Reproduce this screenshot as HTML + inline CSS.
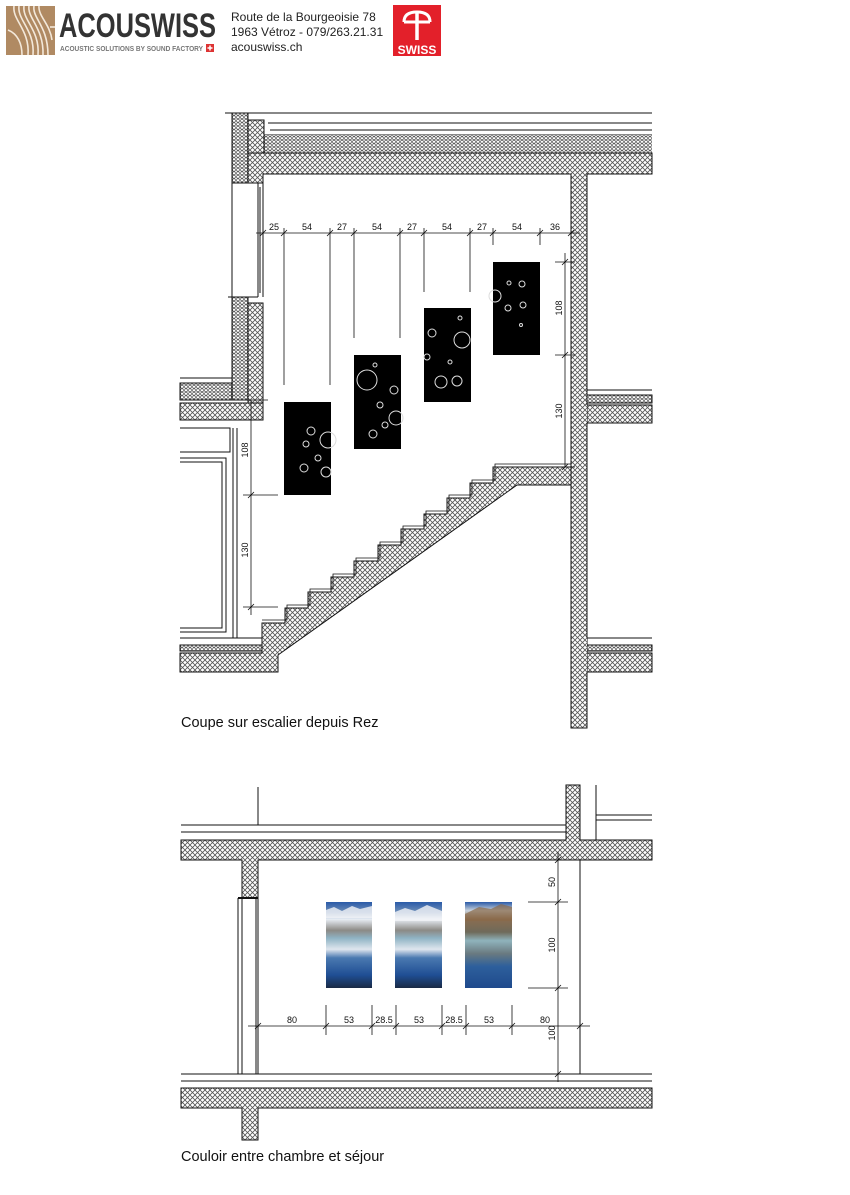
<!DOCTYPE html>
<html><head><meta charset="utf-8"><style>
html,body{margin:0;padding:0;background:#fff;}
body{width:850px;height:1195px;position:relative;overflow:hidden;font-family:"Liberation Sans",sans-serif;}
</style></head><body>
<svg width="850" height="1195" viewBox="0 0 850 1195" xmlns="http://www.w3.org/2000/svg" style="position:absolute;left:0;top:0">
<defs>
<pattern id="h" width="5" height="5" patternUnits="userSpaceOnUse">
<rect width="5" height="5" fill="#fff"/>
<path d="M0 0L5 5M5 0L0 5" stroke="#555" stroke-width="0.8"/>
</pattern>
<pattern id="f" width="4" height="3.5" patternUnits="userSpaceOnUse">
<rect width="4" height="3.5" fill="#fff"/>
<circle cx="2" cy="1.75" r="1.5" fill="none" stroke="#555" stroke-width="0.7"/>
</pattern>
<linearGradient id="mt" x1="0" y1="0" x2="0" y2="1">
<stop offset="0" stop-color="#2a5aa8"/><stop offset="0.12" stop-color="#6f8fb8"/>
<stop offset="0.2" stop-color="#e8eef4"/><stop offset="0.33" stop-color="#8c8a86"/>
<stop offset="0.42" stop-color="#8fb3c4"/><stop offset="0.55" stop-color="#dfe6ee"/>
<stop offset="0.65" stop-color="#4a79b0"/><stop offset="0.85" stop-color="#1f4e94"/>
<stop offset="1" stop-color="#1a2a44"/>
</linearGradient>
<linearGradient id="mt3" x1="0" y1="0" x2="0" y2="1">
<stop offset="0" stop-color="#2a5aa8"/><stop offset="0.1" stop-color="#c9d2dc"/>
<stop offset="0.2" stop-color="#8a6d50"/><stop offset="0.35" stop-color="#6f6a5a"/>
<stop offset="0.45" stop-color="#8fb3bc"/><stop offset="0.6" stop-color="#6a7a80"/>
<stop offset="0.75" stop-color="#2d5f9c"/><stop offset="1" stop-color="#1f4a8c"/>
</linearGradient>
</defs>

<!-- HEADER -->
<rect x="6" y="6" width="49" height="49" fill="#b08a63"/>
<g fill="none" stroke="#f3e8da" stroke-width="1.6">
<path d="M14 6 C12 20 30 30 28 55"/><path d="M19 6 C17 20 35 30 33 55"/><path d="M24 6 C22 20 40 30 38 55"/>
<path d="M29 6 C27 18 44 28 43 55"/><path d="M34 6 C32 18 48 26 48 55"/><path d="M39 6 C38 16 50 24 52 40"/>
<path d="M8 30 C18 34 22 44 22 55"/><path d="M50 27 h5"/>
</g>
<text x="59" y="37" font-size="34" font-weight="bold" fill="#333" textLength="157" lengthAdjust="spacingAndGlyphs">ACOUSWISS</text>
<text x="60" y="51" font-size="7.5" font-weight="bold" fill="#777" textLength="143" lengthAdjust="spacingAndGlyphs">ACOUSTIC SOLUTIONS BY SOUND FACTORY</text>
<rect x="206" y="44" width="8" height="8" fill="#d33"/><path d="M210 45.5v5M207.5 48h5" stroke="#fff" stroke-width="1.5"/>
<text x="231" y="21" font-size="12" fill="#222">Route de la Bourgeoisie 78</text>
<text x="231" y="36" font-size="12" fill="#222">1963 Vétroz - 079/263.21.31</text>
<text x="231" y="51" font-size="12" fill="#222">acouswiss.ch</text>
<rect x="393" y="5" width="48" height="51" fill="#e3202a"/>
<path d="M404 22 Q404 12 417 12 Q430 12 430 22 M404 22h26" fill="none" stroke="#fff" stroke-width="3"/>
<path d="M417 12v28" stroke="#fff" stroke-width="3.5"/>
<text x="417" y="54" font-size="12" font-weight="bold" fill="#fff" text-anchor="middle">SWISS</text>

<!-- TOP DRAWING -->
<g stroke="#111" stroke-width="1" fill="none">
<path d="M268 113H652M268 123H652M270 130H652M264 135H652"/>
</g>
<rect x="264" y="135" width="388" height="18" fill="url(#f)"/>
<path d="M248 153H652V174H587V728H571V174H263V183H248Z" fill="url(#h)" stroke="#111"/>
<path d="M248 120H264V153H248Z" fill="url(#h)" stroke="#111"/>
<rect x="232" y="113" width="16" height="70" fill="url(#f)" stroke="#111"/>
<path d="M225 113H270" stroke="#111"/>
<path d="M258 183V297M263 183V297M260 187V293M232 183V297" stroke="#111" fill="none"/>
<path d="M228 297H258" stroke="#111"/>
<rect x="232" y="297" width="16" height="103" fill="url(#f)" stroke="#111"/>
<rect x="248" y="303" width="15" height="117" fill="url(#h)" stroke="#111"/>
<path d="M180 378H232M180 383H232" stroke="#111"/>
<rect x="180" y="383" width="52" height="17" fill="url(#f)" stroke="#111"/>
<rect x="180" y="403" width="83" height="17" fill="url(#h)" stroke="#111"/>
<path d="M587 390H652" stroke="#111"/>
<rect x="587" y="395" width="65" height="8" fill="url(#f)" stroke="#111"/>
<rect x="587" y="405" width="65" height="18" fill="url(#h)" stroke="#111"/>
<path d="M587 638H652" stroke="#111"/>
<rect x="587" y="645" width="65" height="6" fill="url(#f)" stroke="#111"/>
<rect x="587" y="653" width="65" height="19" fill="url(#h)" stroke="#111"/>
<rect x="571" y="405" width="16" height="267" fill="url(#h)"/>
<path d="M571 174V728M587 174V390M587 423V638M587 672V728" stroke="#111"/>
<g stroke="#111" fill="none">
<path d="M233 428V638M237 428V638"/>
<path d="M180 428H230V452H180M180 458H226V632H180M180 462H222V628H180"/>
</g>
<path d="M180 638H262" stroke="#111"/>
<rect x="180" y="645" width="82" height="6" fill="url(#f)" stroke="#111"/>
<path d="M180 653H262V623H285V608H308V592H331V577H354V561H378V545H401V529H424V514H447V498H470V483H493V467H571V485H517L278 655V672H180Z" fill="url(#h)" stroke="#111"/>
<path d="M262 620H287V605H310V589H333V574H356V558H380V542H403V526H426V511H449V495H472V480H495V464H571" fill="none" stroke="#111" stroke-width="0.8"/>

<g>
<rect x="284" y="402" width="47" height="93" fill="#000"/>
<rect x="354" y="355" width="47" height="94" fill="#000"/>
<rect x="424" y="308" width="47" height="94" fill="#000"/>
<rect x="493" y="262" width="47" height="93" fill="#000"/>
<g fill="none" stroke="#ddd" stroke-width="1">
<circle cx="311" cy="431" r="4"/><circle cx="306" cy="444" r="3"/><circle cx="304" cy="468" r="4"/><circle cx="328" cy="440" r="8"/><circle cx="318" cy="458" r="3"/><circle cx="326" cy="472" r="5"/>
<circle cx="367" cy="380" r="10"/><circle cx="380" cy="405" r="3"/><circle cx="394" cy="390" r="4"/><circle cx="396" cy="418" r="7"/><circle cx="373" cy="434" r="4"/><circle cx="385" cy="425" r="3"/><circle cx="375" cy="365" r="2"/>
<circle cx="432" cy="333" r="4"/><circle cx="462" cy="340" r="8"/><circle cx="441" cy="382" r="6"/><circle cx="457" cy="381" r="5"/><circle cx="427" cy="357" r="3"/><circle cx="450" cy="362" r="2"/><circle cx="460" cy="318" r="2"/>
<circle cx="509" cy="283" r="2"/><circle cx="522" cy="284" r="3"/><circle cx="508" cy="308" r="3"/><circle cx="523" cy="305" r="3"/><circle cx="495" cy="296" r="6"/><circle cx="521" cy="325" r="1.5"/>
</g>
</g>

<g stroke="#111" stroke-width="0.8" fill="none">
<path d="M256 233H580"/>
<path d="M263 228V240M284 228V385M330 228V385M354 228V338M400 228V338M424 228V292M470 228V292M493 228V245M540 228V245M571 228V240"/>
<path d="M260 236l6-6M281 236l6-6M327 236l6-6M351 236l6-6M397 236l6-6M421 236l6-6M467 236l6-6M490 236l6-6M537 236l6-6M568 236l6-6"/>
<path d="M565 253V467M555 262H575M555 355H575M555 467H575M562 265l6-6M562 358l6-6M562 470l6-6"/>
<path d="M251 400V615M243 400H268M243 495H278M243 607H278M248 498l6-6M248 610l6-6"/>
</g>
<g font-size="9" fill="#111" text-anchor="middle">
<text x="274" y="230">25</text><text x="307" y="230">54</text><text x="342" y="230">27</text><text x="377" y="230">54</text><text x="412" y="230">27</text><text x="447" y="230">54</text><text x="482" y="230">27</text><text x="517" y="230">54</text><text x="555" y="230">36</text>
<text transform="translate(562 308) rotate(-90)">108</text>
<text transform="translate(562 411) rotate(-90)">130</text>
<text transform="translate(248 450) rotate(-90)">108</text>
<text transform="translate(248 550) rotate(-90)">130</text>
</g>
<text x="181" y="727" font-size="14.5" fill="#111">Coupe sur escalier depuis Rez</text>

<g stroke="#111" fill="none">
<path d="M181 825H566M181 832H566M258 787V825"/>
<path d="M596 785V840M596 815H652M596 820H652"/>
<path d="M181 1074H652M181 1081H652"/>
<path d="M238 898V1074M242 898V1074M256 898V1074M258 898V1074"/>
<path d="M580 860V1074"/>
</g>
<path d="M181 840H566V785H580V840H652V860H258V898H242V860H181Z" fill="url(#h)" stroke="#111"/>
<path d="M238 898H258" stroke="#111" stroke-width="2"/>
<path d="M181 1088H652V1108H258V1140H242V1108H181Z" fill="url(#h)" stroke="#111"/>
<rect x="326" y="902" width="46" height="86" fill="url(#mt)"/>
<rect x="395" y="902" width="47" height="86" fill="url(#mt)"/>
<rect x="465" y="902" width="47" height="86" fill="url(#mt3)"/>
<path d="M326 910l8-3 8 4 10-5 8 3 12-3v12h-46z" fill="#f2f4f7" opacity="0.8"/>
<path d="M395 912l10-4 10 3 12-6 15 6v10h-47z" fill="#f2f4f7" opacity="0.8"/>
<path d="M465 914l14-7 12 2 10-5 11 3v14h-47z" fill="#8a6a48" opacity="0.7"/>
<g stroke="#111" stroke-width="0.8" fill="none">
<path d="M248 1026H590"/>
<path d="M258 1020V1032M326 1005V1035M372 1005V1035M396 1005V1035M442 1005V1035M466 1005V1035M512 1005V1035M580 1020V1032"/>
<path d="M255 1029l6-6M323 1029l6-6M369 1029l6-6M393 1029l6-6M439 1029l6-6M463 1029l6-6M509 1029l6-6M577 1029l6-6"/>
<path d="M558 852V1082M528 902H568M528 988H568M552 860H565M552 1074H565M555 863l6-6M555 905l6-6M555 991l6-6M555 1077l6-6"/>
</g>
<g font-size="9" fill="#111" text-anchor="middle">
<text x="292" y="1023">80</text><text x="349" y="1023">53</text><text x="384" y="1023">28.5</text><text x="419" y="1023">53</text><text x="454" y="1023">28.5</text><text x="489" y="1023">53</text><text x="545" y="1023">80</text>
<text transform="translate(555 882) rotate(-90)">50</text>
<text transform="translate(555 945) rotate(-90)">100</text>
<text transform="translate(555 1033) rotate(-90)">100</text>
</g>
<text x="181" y="1161" font-size="14.5" fill="#111">Couloir entre chambre et séjour</text>
</svg>
</body></html>
